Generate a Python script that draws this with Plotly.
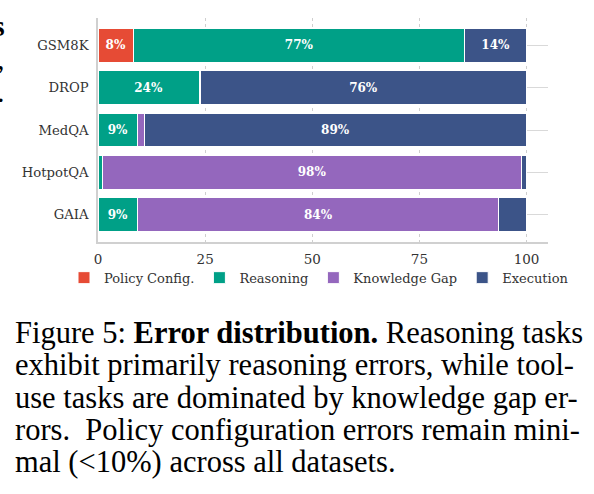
import plotly.graph_objects as go

datasets = ["GSM8K", "DROP", "MedQA", "HotpotQA", "GAIA"]
policy_config = [8.3, 0.0, 0.0, 0.0, 0.0]
reasoning = [77.3, 23.6, 9.3, 1.0, 9.3]
knowledge_gap = [0.0, 0.3, 1.5, 97.9, 84.2]
execution = [14.4, 76.1, 89.2, 1.1, 6.5]

series_names = ["Policy Config.", "Reasoning", "Knowledge Gap", "Execution"]
series_values = [policy_config, reasoning, knowledge_gap, execution]
series_colors = ["#E64B35", "#00A087", "#9467BD", "#3C5488"]

x_ticks = [0, 25, 50, 75, 100]

caption_lines = [
    "Figure 5: <b>Error distribution.</b> Reasoning tasks",
    "exhibit primarily reasoning errors, while tool-",
    "use tasks are dominated by knowledge gap er-",
    "rors.  Policy configuration errors remain mini-",
    "mal (&lt;10%) across all datasets.",
]

W, H = 594, 494
L, R, T, B = 98, 548, 18.3, 242.3
pw, ph = R - L, B - T

def px(x):
    return (x - L) / pw

def py(y):
    return (B - y) / ph

fig = go.Figure()
for name, vals, col in zip(series_names, series_values, series_colors):
    texts = [f"{v:.0f}%" if v >= 7 else "" for v in vals]
    fig.add_trace(go.Bar(
        y=datasets, x=vals, name=name, orientation="h",
        marker=dict(color=col, line=dict(color="white", width=1)),
        width=0.8,
        text=texts, textposition="inside", insidetextanchor="middle",
        textangle=0, constraintext="none",
        textfont=dict(family="DejaVu Serif", size=12, color="white", weight="bold"),
        hoverinfo="skip",
    ))

annotations = []
cap_y = [333, 365.5, 398, 430.5, 462.5]
for line, yy in zip(caption_lines, cap_y):
    annotations.append(dict(
        text=line, xref="paper", yref="paper", x=px(13), y=py(yy),
        xanchor="left", yanchor="middle", showarrow=False,
        font=dict(family="Liberation Serif", size=30.5, color="black"),
    ))
for ch, yy, bold in [("s", 26, True), (",", 59, False), (".", 92, False)]:
    annotations.append(dict(
        text=f"<b>{ch}</b>" if bold else ch, xref="paper", yref="paper",
        x=px(7), y=py(yy), xanchor="right", yanchor="middle", showarrow=False,
        font=dict(family="Liberation Serif", size=30, color="black"),
    ))

fig.update_layout(
    width=W, height=H,
    margin=dict(l=L, r=W - R, t=T, b=H - B, pad=0, autoexpand=False),
    barmode="stack", bargap=0.2,
    plot_bgcolor="white", paper_bgcolor="white",
    showlegend=True,
    legend=dict(orientation="h", x=px(64), xanchor="left", y=py(278), yanchor="middle",
                font=dict(family="DejaVu Serif", size=13, color="#333"),
                traceorder="normal", itemwidth=30, bgcolor="rgba(0,0,0,0)"),
    annotations=annotations,
    uniformtext=dict(mode=False),
)
fig.update_xaxes(
    range=[0, 105], tickvals=x_ticks, ticktext=[str(t) for t in x_ticks],
    showgrid=True, gridcolor="#cfcfcf", griddash="dot", gridwidth=1,
    showline=True, linecolor="#d0d0d0", linewidth=1.5, ticks="", zeroline=False,
    tickfont=dict(family="DejaVu Serif", size=13.5, color="#333"),
    ticklabelstandoff=4,
)
fig.update_yaxes(
    categoryorder="array", categoryarray=datasets, range=[4.64, -0.64],
    showgrid=True, gridcolor="#d9d9d9", gridwidth=1.2,
    showline=True, linecolor="#d0d0d0", linewidth=1.5, ticks="", zeroline=False,
    tickfont=dict(family="DejaVu Serif", size=13.2, color="#333"),
    ticklabelstandoff=5,
)

fig.write_html("out.html")
